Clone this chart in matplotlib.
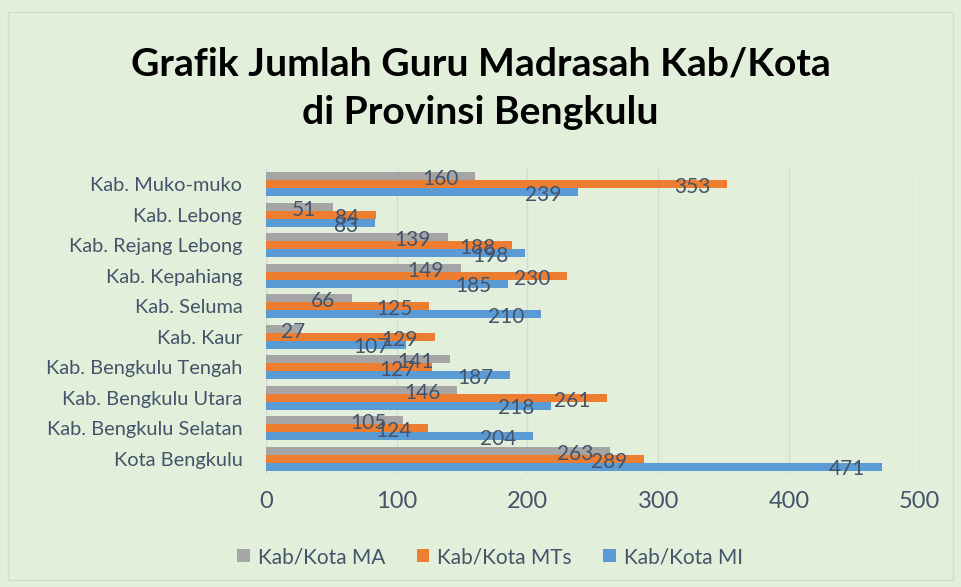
import matplotlib
matplotlib.use('Agg')
import matplotlib.pyplot as plt
from matplotlib.patches import Rectangle

# Data (top to bottom as shown)
categories = ['Kab. Muko-muko', 'Kab. Lebong', 'Kab. Rejang Lebong', 'Kab. Kepahiang',
              'Kab. Seluma', 'Kab. Kaur', 'Kab. Bengkulu Tengah', 'Kab. Bengkulu Utara',
              'Kab. Bengkulu Selatan', 'Kota Bengkulu']
ma = [160, 51, 139, 149, 66, 27, 141, 146, 105, 263]
mts = [353, 84, 188, 230, 125, 129, 127, 261, 124, 289]
mi = [239, 83, 198, 185, 210, 107, 187, 218, 204, 471]
series_names = ['Kab/Kota MA', 'Kab/Kota MTs', 'Kab/Kota MI']
xticks = [0, 100, 200, 300, 400, 500]

BG = '#e2efda'
TXT = '#44546a'
COLORS = ['#a5a5a5', '#ed7d31', '#5b9bd5']
FONT = ['Lato', 'DejaVu Sans']

plt.rcParams['font.family'] = FONT

fig = plt.figure(figsize=(9.61, 5.87), dpi=100, facecolor=BG)
ax = fig.add_axes([0.2768, 0.1925, 0.957 - 0.2768, 0.712 - 0.1925])
ax.set_facecolor(BG)

# chart border
fig.patches.append(Rectangle((8 / 961, 1 - 580 / 587), 945 / 961, 568 / 587,
                             transform=fig.transFigure, fill=False,
                             edgecolor='#d9d9d9', linewidth=1))

h = 0.26
pos = list(range(len(categories)))
for k, (vals, col, name) in enumerate(zip([ma, mts, mi], COLORS, series_names)):
    ys = [p + (k - 1) * h for p in pos]
    ax.barh(ys, vals, height=h, color=col, label=name, zorder=3)
    for y, v in zip(ys, vals):
        if v < 40:
            ax.annotate(str(v), (0, y), xytext=(11, -2), textcoords='offset points',
                        ha='left', va='center', fontsize=15, color=TXT, zorder=5)
        else:
            ax.annotate(str(v), (v, y), xytext=(-12, -2), textcoords='offset points',
                        ha='right', va='center', fontsize=15, color=TXT, zorder=5)

ax.set_ylim(len(categories) - 0.5, -0.5)
ax.set_yticks(pos)
ax.set_yticklabels(categories, fontsize=14.4, color=TXT)
ax.set_xlim(0, 500)
ax.set_xticks(xticks)
ax.set_xticklabels([str(t) for t in xticks], fontsize=17, color=TXT)
ax.tick_params(length=0, pad=17, axis='y')
ax.tick_params(length=0, pad=12, axis='x')
ax.grid(axis='x', color='#d9d9d9', linewidth=1, zorder=0)
for s in ['top', 'right', 'bottom']:
    ax.spines[s].set_visible(False)
ax.spines['left'].set_color('#d9d9d9')

fig.text(0.5, 1 - 88 / 587, 'Grafik Jumlah Guru Madrasah Kab/Kota\ndi Provinsi Bengkulu',
         ha='center', va='center', fontsize=28.2, fontweight='bold', color='black',
         linespacing=1.48)

fig.legend(loc='center', bbox_to_anchor=(0.51, 1 - 557 / 587), ncol=3, frameon=False,
           fontsize=15, handlelength=0.6, handleheight=0.6, columnspacing=1.5,
           handletextpad=0.4, labelcolor=TXT)

fig.savefig('out.png', dpi=100, facecolor=BG)
